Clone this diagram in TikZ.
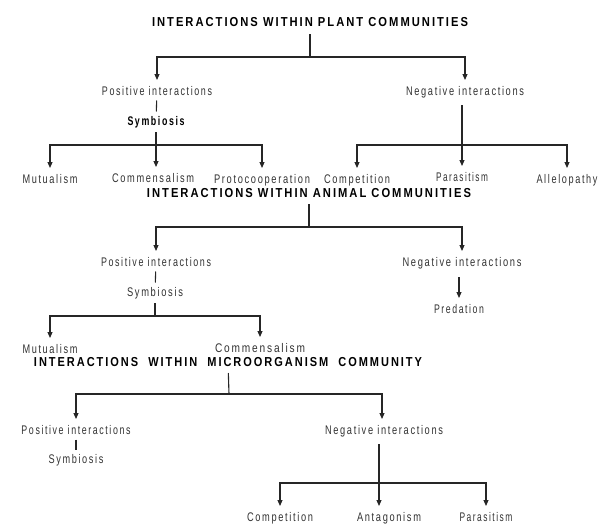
\documentclass[tikz,border=0pt]{standalone}
\usepackage{fontspec}
\setmainfont{Liberation Sans}[LetterSpace=18]
\usetikzlibrary{arrows.meta}
\newcommand{\fw}[2]{\resizebox{#1pt}{\height}{#2}}
\begin{document}
\begin{tikzpicture}[x=1pt,y=-1pt,
  lbl/.style={inner sep=0pt, outer sep=6pt, text height=9pt, text depth=1pt,
    font=\fontsize{12.5}{14}\selectfont, text=black!80},
  ttl/.style={lbl, font=\fontsize{13}{15}\selectfont\bfseries, text=black},
  bld/.style={lbl, font=\fontsize{12.5}{14}\selectfont\bfseries, text=black},
  ln/.style={line width=1.1pt, draw=black!85},
  tick/.style={ln, shorten <=-1.5pt, shorten >=-1.5pt},
  arr/.style={ln, -{Triangle[width=5pt,length=6pt]}}]
\fill[white] (0,0) rectangle (610,530);
\useasboundingbox (0,0) rectangle (610,530);

% ---------- Plant communities ----------
\node[ttl] (t1) at (310,23) {\fw{316}{INTERACTIONS WITHIN PLANT COMMUNITIES}};
\coordinate (j1) at (310,57);
\node[lbl] (p1) at (157,91) {\fw{110}{Positive interactions}};
\node[lbl] (n1) at (465,91) {\fw{118}{Negative interactions}};
\node[bld] (s1) at (156,121) {\fw{57}{Symbiosis}};
\coordinate (j2) at (156,145);
\node[lbl] (m1) at (50,179) {\fw{55}{Mutualism}};
\node[lbl] (c1) at (153,178) {\fw{82}{Commensalism}};
\node[lbl] (pc1) at (262,179) {\fw{96}{Protocooperation}};
\coordinate (j3) at (462,145);
\node[lbl] (co1) at (357,179) {\fw{66}{Competition}};
\node[lbl] (par1) at (462,177) {\fw{52}{Parasitism}};
\node[lbl] (al1) at (567,179) {\fw{61}{Allelopathy}};

\draw[ln] (t1) -- (j1);
\draw[arr] (j1) -| (p1);
\draw[arr] (j1) -| (n1);
\draw[tick] (p1) -- (s1);
\draw[ln] (s1) -- (j2);
\draw[arr] (j2) -| (m1);
\draw[arr] (j2) -- (j2 |- c1.north);
\draw[arr] (j2) -| (pc1);
\draw[arr, shorten <=3pt] (n1.south -| par1) -- (par1);
\draw[arr] (j3) -| (co1);
\draw[arr] (j3) -| (al1);

% ---------- Animal communities ----------
\node[ttl] (t2) at (309,193) {\fw{324}{INTERACTIONS WITHIN ANIMAL COMMUNITIES}};
\coordinate (j4) at (309,227);
\node[lbl] (p2) at (156,262) {\fw{110}{Positive interactions}};
\node[lbl] (n2) at (462,262) {\fw{119}{Negative interactions}};
\node[lbl] (s2) at (155,292) {\fw{56}{Symbiosis}};
\coordinate (j5) at (155,316);
\node[lbl] (m2) at (50,349) {\fw{55}{Mutualism}};
\node[lbl] (c2) at (260,348) {\fw{90}{Commensalism}};
\node[lbl] (pr) at (459,309) {\fw{50}{Predation}};

\draw[ln] (t2) -- (j4);
\draw[arr] (j4) -| (p2);
\draw[arr] (j4) -| (n2);
\draw[tick] (p2) -- (s2);
\draw[ln] (s2) -- (j5);
\draw[arr] (j5) -| (m2);
\draw[arr] (j5) -| (c2);
\draw[arr, shorten <=4pt] (n2.south -| pr) -- (pr);

% ---------- Microorganism community ----------
\node[ttl] (t3) at (228,362) {\fw{388}{INTERACTIONS\ \ WITHIN\ \ MICROORGANISM\ \ COMMUNITY}};
\coordinate (j6) at (229,394);
\node[lbl] (p3) at (76,430) {\fw{109}{Positive interactions}};
\node[lbl] (n3) at (384,430) {\fw{118}{Negative interactions}};
\node[lbl] (s3) at (76,459) {\fw{55}{Symbiosis}};
\coordinate (j7) at (379,483);
\node[lbl] (co3) at (280,517) {\fw{66}{Competition}};
\node[lbl] (an3) at (389,517) {\fw{64}{Antagonism}};
\node[lbl] (par3) at (486,517) {\fw{53}{Parasitism}};

\draw[ln] (t3) -- (j6);
\draw[arr] (j6) -| (p3);
\draw[arr] (j6) -| ([xshift=-2pt]n3.north);
\draw[tick] (p3) -- (s3);
\draw[arr, shorten <=3pt] (n3.south -| j7) -- (j7 |- an3.north);
\draw[arr] (j7) -| (co3);
\draw[arr] (j7) -| (par3);
\end{tikzpicture}
\end{document}
